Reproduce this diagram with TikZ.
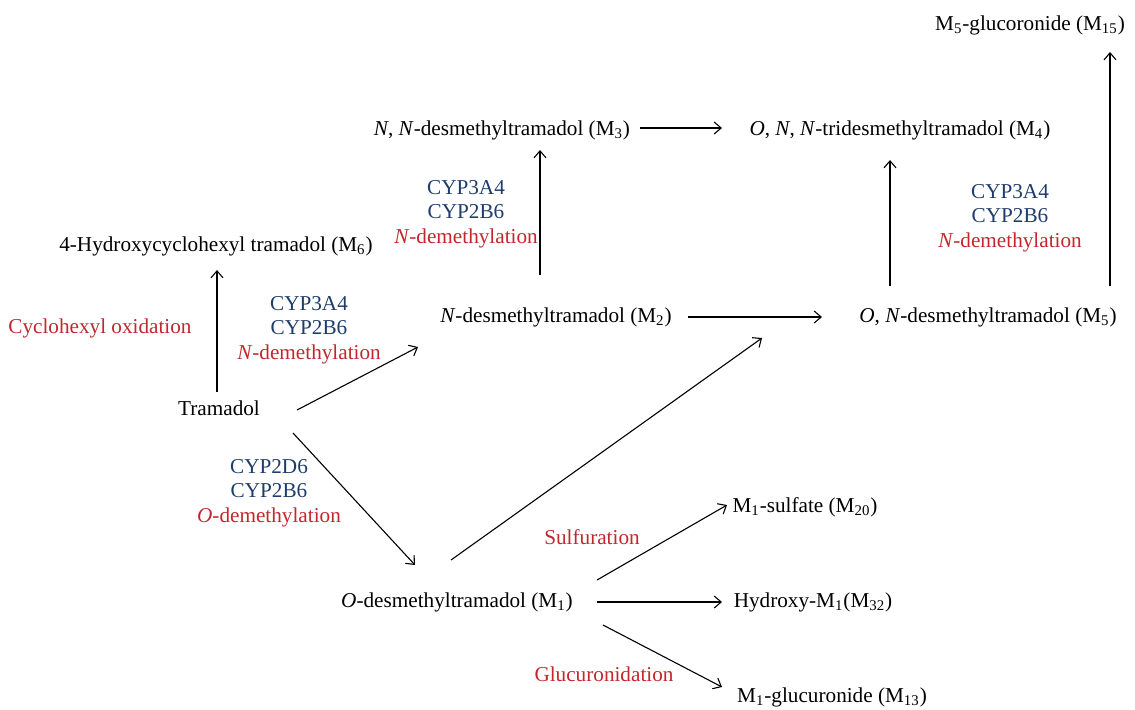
\documentclass[tikz,border=0pt]{standalone}
\usepackage{fontspec}
\setmainfont{Liberation Serif}
\usepackage{xcolor}
\usetikzlibrary{arrows.meta}
\definecolor{cypblue}{RGB}{31,61,106}
\definecolor{rxred}{RGB}{193,39,45}

\begin{document}
\begin{tikzpicture}[x=0.5pt,y=-0.5pt,
  every node/.style={font=\fontsize{10.6}{12.25}\selectfont},
  met/.style={inner sep=1pt},
  enz/.style={align=center,inner sep=0pt,text=cypblue},
  rx/.style={inner sep=0pt,text=rxred},
  conv/.style={-{Straight Barb[length=3.5pt,width=6pt]},line width=0.55pt}]
  \useasboundingbox (0,0) rectangle (1135,709);

  % metabolites
  \node[met] (tram) at (219,408) {Tramadol};
  \node[met] (m6) at (216,246) {4-Hydroxycyclohexyl tramadol (M\textsubscript{6})};
  \node[met] (m2) at (556,317) {\textit{N}-desmethyltramadol (M\textsubscript{2})};
  \node[met] (m3) at (502,130) {\textit{N}, \textit{N}-desmethyltramadol (M\textsubscript{3})};
  \node[met] (m4) at (900,130) {\textit{O}, \textit{N}, \textit{N}-tridesmethyltramadol (M\textsubscript{4})};
  \node[met] (m5) at (988,317) {\textit{O}, \textit{N}-desmethyltramadol (M\textsubscript{5})};
  \node[met] (m15) at (1030,25) {M\textsubscript{5}-glucoronide (M\textsubscript{15})};
  \node[met] (m1) at (457,602) {\textit{O}-desmethyltramadol (M\textsubscript{1})};
  \node[met] (m20) at (805,507) {M\textsubscript{1}-sulfate (M\textsubscript{20})};
  \node[met] (m32) at (813,602) {Hydroxy-M\textsubscript{1}(M\textsubscript{32})};
  \node[met] (m13) at (832,697) {M\textsubscript{1}-glucuronide (M\textsubscript{13})};

  % enzymes and reactions
  \node[rx] (oxid) at (100,328) {Cyclohexyl oxidation};
  \node[enz] (ndemA) at (309,330) {CYP3A4\\CYP2B6\\\textcolor{rxred}{\textit{N}-demethylation}};
  \node[enz] (ndemB) at (466,214) {CYP3A4\\CYP2B6\\\textcolor{rxred}{\textit{N}-demethylation}};
  \node[enz] (ndemC) at (1010,218) {CYP3A4\\CYP2B6\\\textcolor{rxred}{\textit{N}-demethylation}};
  \node[enz] (odem) at (269,493) {CYP2D6\\CYP2B6\\\textcolor{rxred}{\textit{O}-demethylation}};
  \node[rx] (sulf) at (592,537) {Sulfuration};
  \node[rx] (gluc) at (604,674) {Glucuronidation};

  % conversions
  \draw[conv] ([shift={(-2,-16)}]tram.center) -- ([shift={(1,24)}]m6.center);
  \draw[conv] ([shift={(78,2)}]tram.center) -- ([shift={(-138,30)}]m2.center);
  \draw[conv] ([shift={(74,25)}]tram.center) -- ([shift={(-42,-37)}]m1.center);
  \draw[conv] ([shift={(-16,-42)}]m2.center) -- ([shift={(38,20)}]m3.center);
  \draw[conv] ([shift={(138,-2)}]m3.center) -- ([shift={(-178,-2)}]m4.center);
  \draw[conv] ([shift={(132,0)}]m2.center) -- ([shift={(-166,0)}]m5.center);
  \draw[conv] ([shift={(-6,-42)}]m1.center) -- ([shift={(-226,21)}]m5.center);
  \draw[conv] ([shift={(-98,-31)}]m5.center) -- ([shift={(-10,30)}]m4.center);
  \draw[conv] ([shift={(122,-31)}]m5.center) -- ([shift={(80,27)}]m15.center);
  \draw[conv] ([shift={(140,-22)}]m1.center) -- ([shift={(-78,-2)}]m20.center);
  \draw[conv] ([shift={(140,0)}]m1.center) -- ([shift={(-91,0)}]m32.center);
  \draw[conv] ([shift={(146,23)}]m1.center) -- ([shift={(-110,-10)}]m13.center);
\end{tikzpicture}
\end{document}
